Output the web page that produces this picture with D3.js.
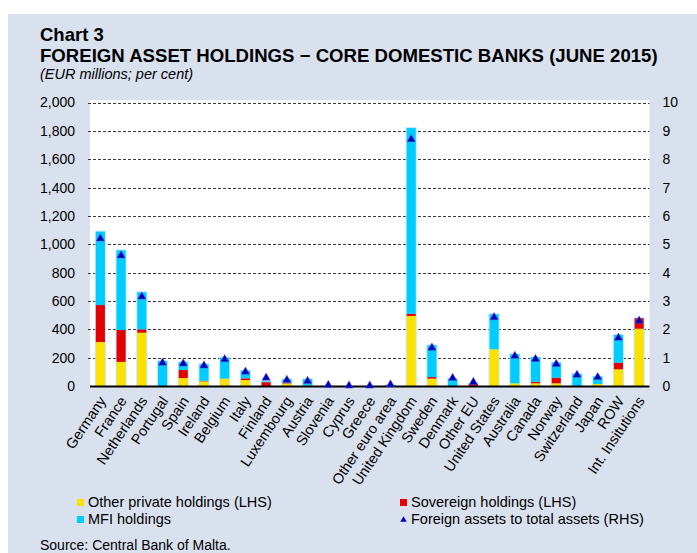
<!DOCTYPE html>
<html>
<head>
<meta charset="utf-8">
<script src="https://cdn.jsdelivr.net/npm/d3@7"></script>
<style>
  html, body { margin: 0; padding: 0; background: #ffffff; }
  svg { display: block; font-family: "Liberation Sans", Arial, sans-serif; }
</style>
</head>
<body>
<svg id="chart" width="697" height="553"></svg>
<script>
// Core domestic banks' foreign asset holdings by counterparty, June 2015
const categories = ["Germany", "France", "Netherlands", "Portugal", "Spain", "Ireland", "Belgium", "Italy",
  "Finland", "Luxembourg", "Austria", "Slovenia", "Cyprus", "Greece", "Other euro area", "United Kingdom",
  "Sweden", "Denmark", "Other EU", "United States", "Australia", "Canada", "Norway", "Switzerland",
  "Japan", "ROW", "Int. Insitutions"];

// EUR millions (left axis)
const otherPrivate = [310, 170, 376, 0, 56, 33, 52, 42, 0, 18, 3, 0, 0, 0, 0, 494, 52, 0, 0, 259, 19, 19, 19, 0, 14, 118, 404];
const sovereign    = [261, 225, 24, 0, 57, 4, 0, 12, 27, 4, 0, 0, 0, 0, 5, 16, 11, 0, 15, 0, 0, 11, 40, 0, 0, 47, 74];
const mfi          = [518, 562, 261, 175, 54, 116, 148, 54, 5, 25, 45, 0, 0, 0, 0, 1310, 224, 50, 0, 247, 205, 172, 106, 85, 52, 195, 0];

// Per cent (right axis)
const foreignShare = [5.2, 4.6, 3.15, 0.82, 0.79, 0.72, 0.94, 0.50, 0.29, 0.21, 0.17, 0.03, 0.01, 0.01, 0.05,
  8.7, 1.35, 0.28, 0.14, 2.42, 1.06, 0.95, 0.77, 0.39, 0.31, 1.70, 2.30];

const leftTicks = [0, 200, 400, 600, 800, 1000, 1200, 1400, 1600, 1800, 2000];
const rightTicks = [0, 1, 2, 3, 4, 5, 6, 7, 8, 9, 10];

const seriesKeys = ["otherPrivate", "sovereign", "mfi"];
const seriesNames = {
  otherPrivate: "Other private holdings (LHS)",
  sovereign: "Sovereign holdings (LHS)",
  mfi: "MFI holdings",
  share: "Foreign assets to total assets (RHS)"
};
const colors = { otherPrivate: "#ffe100", sovereign: "#e50000", mfi: "#00ccff", share: "#0000b4" };

const rows = categories.map((c, i) => ({
  category: c,
  otherPrivate: otherPrivate[i],
  sovereign: sovereign[i],
  mfi: mfi[i],
  share: foreignShare[i]
}));

const svg = d3.select("#chart");
const W = 697, H = 553;

// Panel background
svg.append("rect").attr("x", 8).attr("y", 14).attr("width", W - 8).attr("height", H - 14).attr("fill", "#dae1ee");

// Titles
svg.append("text").attr("x", 40).attr("y", 40.5).attr("font-size", 18.5).attr("font-weight", "bold")
  .attr("fill", "#000").text("Chart 3");
svg.append("text").attr("x", 40).attr("y", 61.5).attr("font-size", 18.6).attr("font-weight", "bold")
  .attr("fill", "#000").text("FOREIGN ASSET HOLDINGS \u2212 CORE DOMESTIC BANKS (JUNE 2015)");
svg.append("text").attr("x", 40).attr("y", 79).attr("font-size", 14.5).attr("font-style", "italic")
  .attr("fill", "#000").text("(EUR millions; per cent)");

// Plot area
const plot = { left: 90, right: 649.5, top: 102.5, bottom: 386 };
svg.append("rect").attr("x", plot.left).attr("y", 100).attr("width", plot.right - plot.left)
  .attr("height", plot.bottom - 100).attr("fill", "#ffffff");

const x = d3.scaleBand().domain(categories).range([plot.left, plot.right])
  .paddingInner(0.56).paddingOuter(0.28);
const yL = d3.scaleLinear().domain([0, 2000]).range([plot.bottom, plot.top]);
const yR = d3.scaleLinear().domain([0, 10]).range([plot.bottom, plot.top]);

// Gridlines
svg.append("g").selectAll("line").data(leftTicks.filter(t => t > 0)).join("line")
  .attr("x1", plot.left - 2).attr("x2", plot.right)
  .attr("y1", d => Math.round(yL(d)) + 0.5).attr("y2", d => Math.round(yL(d)) + 0.5)
  .attr("stroke", "#3a3a3a").attr("stroke-width", 1).attr("stroke-dasharray", "3,2");

// Left axis
const axL = svg.append("g").attr("transform", `translate(${plot.left},0)`)
  .call(d3.axisLeft(yL).tickValues(leftTicks).tickFormat(d3.format(",")).tickSize(0).tickPadding(15));
axL.select(".domain").remove();
axL.selectAll("text").attr("font-size", 14).attr("fill", "#000").attr("font-family", "Liberation Sans, Arial, sans-serif");

// Right axis
const axR = svg.append("g").attr("transform", `translate(${plot.right},0)`)
  .call(d3.axisRight(yR).tickValues(rightTicks).tickSize(0).tickPadding(13));
axR.select(".domain").remove();
axR.selectAll("text").attr("font-size", 14).attr("fill", "#000").attr("font-family", "Liberation Sans, Arial, sans-serif");

// Stacked bars
const stack = d3.stack().keys(seriesKeys)(rows);
const total = d => d.otherPrivate + d.sovereign + d.mfi;

// soft light halo around each bar
svg.append("g").selectAll("rect").data(rows.filter(d => total(d) > 0)).join("rect")
  .attr("x", d => x(d.category) - 1)
  .attr("width", x.bandwidth() + 2)
  .attr("y", d => yL(total(d)) - 1)
  .attr("height", d => yL(0) - yL(total(d)) + 1)
  .attr("fill", "#a9e9fb").attr("opacity", 0.8);

svg.append("g").selectAll("g").data(stack).join("g")
  .attr("fill", d => colors[d.key])
  .selectAll("rect").data(d => d).join("rect")
  .attr("x", d => x(d.data.category))
  .attr("width", x.bandwidth())
  .attr("y", d => yL(d[1]))
  .attr("height", d => Math.max(0, yL(d[0]) - yL(d[1])));

// X axis baseline
svg.append("line").attr("x1", plot.left).attr("x2", plot.right)
  .attr("y1", plot.bottom + 0.5).attr("y2", plot.bottom + 0.5)
  .attr("stroke", "#000").attr("stroke-width", 2);

// Triangle markers (right axis)
const tri = d3.symbol().type(d3.symbolTriangle).size(30);
svg.append("g").selectAll("path").data(rows).join("path")
  .attr("d", tri)
  .attr("transform", d => `translate(${x(d.category) + x.bandwidth() / 2},${yR(d.share)})`)
  .attr("fill", colors.share)
  .attr("stroke", "#5a5ae0").attr("stroke-opacity", 0.5).attr("stroke-width", 1);

// Category labels
svg.append("g").selectAll("text").data(categories).join("text")
  .attr("transform", d => `translate(${x(d) + x.bandwidth() / 2 + 2},${plot.bottom + 12}) rotate(-56)`)
  .attr("text-anchor", "end")
  .attr("dy", "0.35em")
  .attr("font-size", 14.5)
  .attr("fill", "#000")
  .text(d => d);

// Legend
const legendItems = [
  { key: "otherPrivate", x: 77, y: 507 },
  { key: "sovereign", x: 400, y: 507 },
  { key: "mfi", x: 77, y: 524 },
  { key: "share", x: 400, y: 524 }
];
const lg = svg.append("g");
legendItems.forEach(it => {
  if (it.key === "share") {
    lg.append("path").attr("d", d3.symbol().type(d3.symbolTriangle).size(18))
      .attr("transform", `translate(${it.x + 3.5},${it.y - 4})`).attr("fill", colors.share);
  } else {
    lg.append("rect").attr("x", it.x).attr("y", it.y - 8).attr("width", 7).attr("height", 7)
      .attr("fill", colors[it.key]);
  }
  lg.append("text").attr("x", it.x + 11).attr("y", it.y).attr("font-size", 14.5).attr("fill", "#000")
    .text(seriesNames[it.key]);
});

// Source
svg.append("text").attr("x", 40).attr("y", 550).attr("font-size", 14).attr("fill", "#000")
  .text("Source: Central Bank of Malta.");
</script>
</body>
</html>
